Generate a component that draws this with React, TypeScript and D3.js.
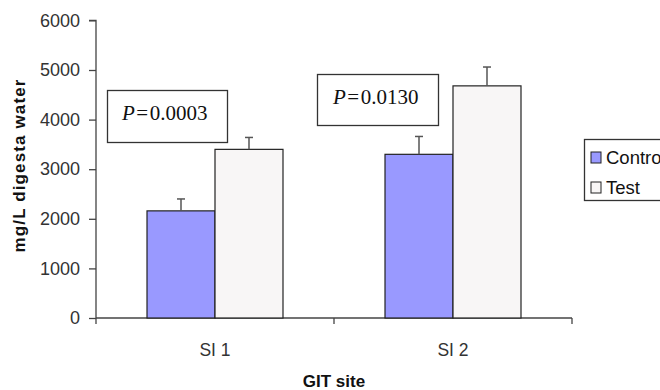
import React, { useEffect, useRef } from 'react';
import * as d3 from 'd3';

const categories = ['SI 1', 'SI 2'];
const seriesNames = ['Control', 'Test'];
const controlValues = [2160, 3300];
const testValues = [3400, 4680];
const controlErrors = [240, 360];
const testErrors = [240, 380];
const pValues = ['0.0003', '0.0130'];
const yTicks = [0, 1000, 2000, 3000, 4000, 5000, 6000];

const colors = ['#9999FF', '#F8F6F6'];
const sans = '"Liberation Sans", Arial, sans-serif';
const serif = '"Liberation Serif", "Times New Roman", serif';

export default function App() {
  const ref = useRef<SVGSVGElement>(null);

  useEffect(() => {
    const svg = d3.select(ref.current);
    svg.selectAll('*').remove();

    const left = 96;
    const right = 572;
    const top = 20.4;
    const bottom = 318;

    const y = d3.scaleLinear().domain([0, 6000]).range([bottom, top]);
    const x0 = d3.scaleBand<string>()
      .domain(categories)
      .range([left, right])
      .paddingInner(0.4286)
      .paddingOuter(0.2143);
    const x1 = d3.scaleBand<string>()
      .domain(seriesNames)
      .range([0, x0.bandwidth()]);

    // y axis
    const yAxis = d3.axisLeft(y).tickValues(yTicks).tickSize(7).tickPadding(9).tickFormat(d3.format('d'));
    const gy = svg.append('g').attr('transform', `translate(${left},0)`).call(yAxis);
    gy.select('.domain').attr('stroke', '#444').attr('stroke-width', 1.3).attr('d', `M-7,${top}H0V${bottom}`);
    gy.selectAll('.tick line').attr('stroke', '#444').attr('stroke-width', 1.3);
    gy.selectAll('.tick text')
      .attr('fill', '#333')
      .style('font-family', sans)
      .style('font-size', '18px');

    // x axis line with category separator ticks
    const gx = svg.append('g');
    gx.append('line')
      .attr('x1', left).attr('x2', right)
      .attr('y1', bottom).attr('y2', bottom)
      .attr('stroke', '#444').attr('stroke-width', 1.3);
    const bounds = [left, ...categories.map(c => x0(c)! + x0.bandwidth() + x0.step() * x0.paddingInner() / 2)];
    bounds.forEach(bx => {
      gx.append('line')
        .attr('x1', bx).attr('x2', bx)
        .attr('y1', bottom).attr('y2', bottom + 6)
        .attr('stroke', '#444').attr('stroke-width', 1.3);
    });
    categories.forEach(c => {
      gx.append('text')
        .attr('x', x0(c)! + x0.bandwidth() / 2)
        .attr('y', 355.5)
        .attr('text-anchor', 'middle')
        .attr('fill', '#333')
        .style('font-family', sans)
        .style('font-size', '17.5px')
        .text(c);
    });

    // bars
    const series = [
      { name: seriesNames[0], values: controlValues, errors: controlErrors, color: colors[0] },
      { name: seriesNames[1], values: testValues, errors: testErrors, color: colors[1] },
    ];
    series.forEach(s => {
      categories.forEach((c, i) => {
        const bx = x0(c)! + x1(s.name)!;
        const bw = x1.bandwidth();
        svg.append('rect')
          .attr('x', bx).attr('y', y(s.values[i]))
          .attr('width', bw).attr('height', y(0) - y(s.values[i]))
          .attr('fill', s.color)
          .attr('stroke', '#222').attr('stroke-width', 1.2);
        const cx = bx + bw / 2;
        const yTop = y(s.values[i] + s.errors[i]);
        svg.append('line')
          .attr('x1', cx).attr('x2', cx)
          .attr('y1', y(s.values[i])).attr('y2', yTop)
          .attr('stroke', '#555').attr('stroke-width', 1.5);
        svg.append('line')
          .attr('x1', cx - 4).attr('x2', cx + 4)
          .attr('y1', yTop).attr('y2', yTop)
          .attr('stroke', '#555').attr('stroke-width', 1.5);
      });
    });

    // P value boxes
    const boxes = [
      { x: 107.5, y: 90.5, w: 120, h: 52, tx: 122, ty: 120 },
      { x: 317.5, y: 74.5, w: 121, h: 51, tx: 333, ty: 104 },
    ];
    boxes.forEach((b, i) => {
      svg.append('rect')
        .attr('x', b.x).attr('y', b.y)
        .attr('width', b.w).attr('height', b.h)
        .attr('fill', '#fff').attr('stroke', '#333').attr('stroke-width', 1.3);
      const t = svg.append('text')
        .attr('x', b.tx).attr('y', b.ty)
        .attr('fill', '#111')
        .style('font-family', serif)
        .style('font-size', '21px');
      t.append('tspan').style('font-style', 'italic').text('P');
      t.append('tspan').attr('dx', 1.5).text('=');
      t.append('tspan').attr('dx', 1.5).text(pValues[i]);
    });

    // legend (extends past the right edge, as in the original)
    const lg = svg.append('g');
    lg.append('rect')
      .attr('x', 584.5).attr('y', 139.5)
      .attr('width', 120).attr('height', 61)
      .attr('fill', '#fff').attr('stroke', '#333').attr('stroke-width', 1.3);
    series.forEach((s, i) => {
      const ry = 152 + i * 30;
      lg.append('rect')
        .attr('x', 591).attr('y', ry)
        .attr('width', 10).attr('height', 11)
        .attr('fill', s.color).attr('stroke', '#222').attr('stroke-width', 1);
      lg.append('text')
        .attr('x', 606).attr('y', ry + 11.5)
        .attr('fill', '#111')
        .style('font-family', sans)
        .style('font-size', '18.5px')
        .text(s.name);
    });

    // axis titles
    svg.append('text')
      .attr('x', 334).attr('y', 387)
      .attr('text-anchor', 'middle')
      .attr('fill', '#111')
      .style('font-family', sans)
      .style('font-size', '17px')
      .style('font-weight', 'bold')
      .text('GIT site');
    svg.append('text')
      .attr('transform', 'translate(24.5,166) rotate(-90)')
      .attr('text-anchor', 'middle')
      .attr('textLength', 173)
      .attr('lengthAdjust', 'spacing')
      .attr('fill', '#111')
      .style('font-family', sans)
      .style('font-size', '17px')
      .style('font-weight', 'bold')
      .text('mg/L digesta water');
  }, []);

  return (
    <div>
      <style>{'body{margin:0}'}</style>
      <svg ref={ref} width={660} height={390} style={{ display: 'block', overflow: 'hidden', background: '#fff' }} />
    </div>
  );
}
